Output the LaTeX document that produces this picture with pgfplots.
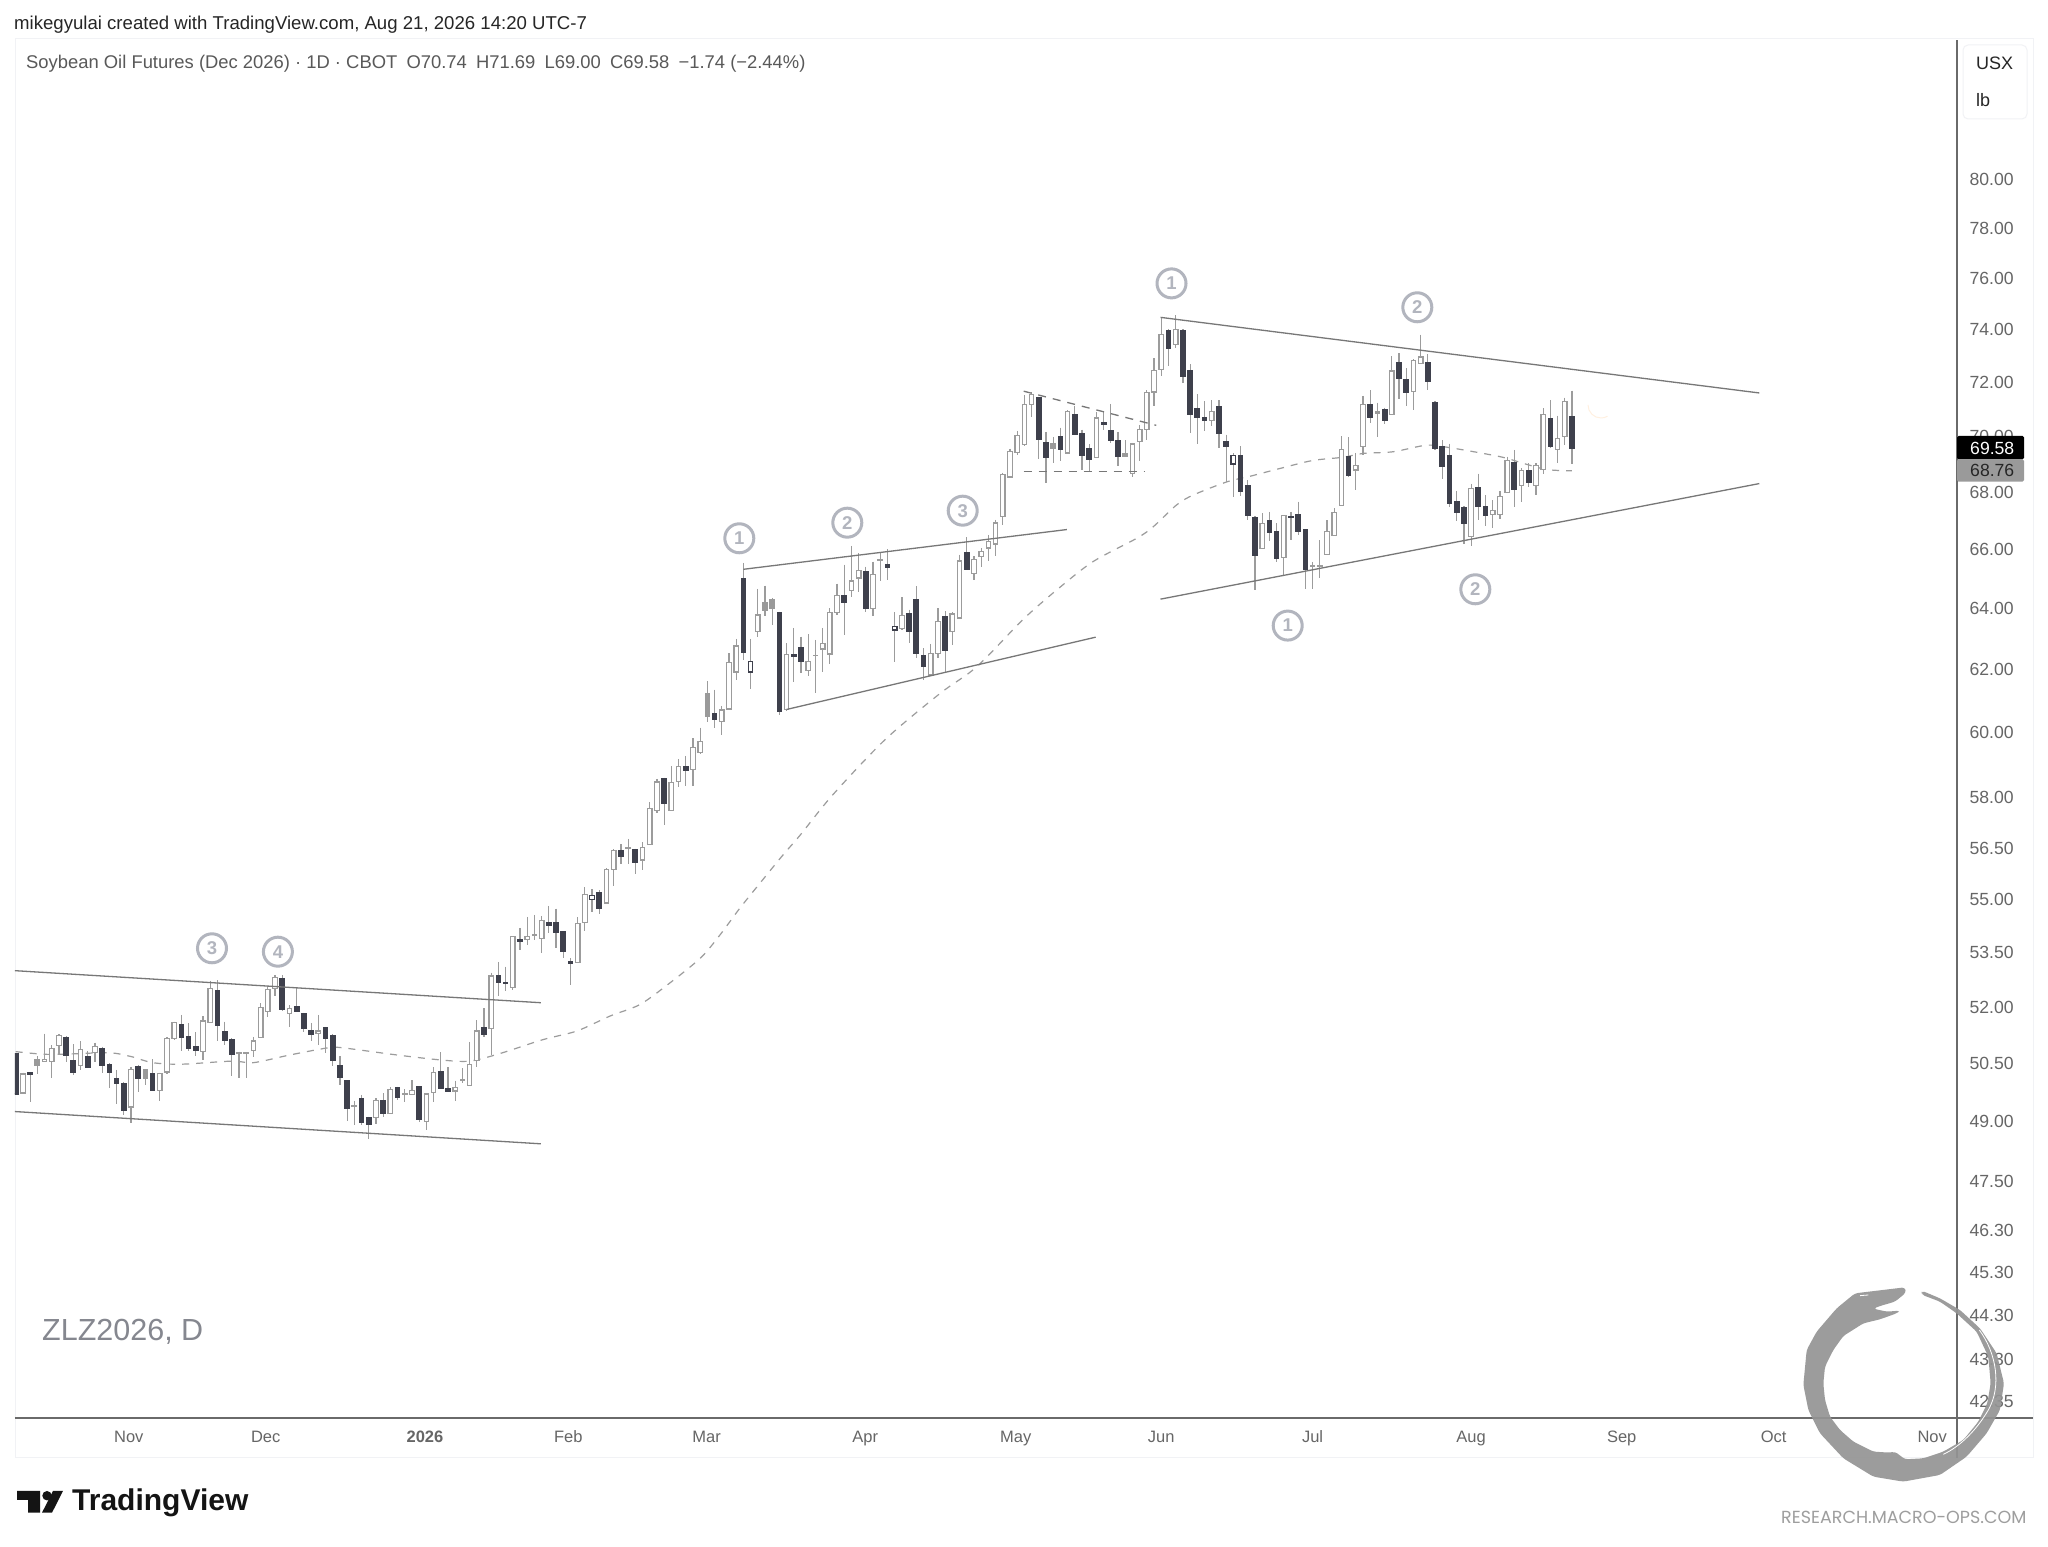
\documentclass[border=0pt]{standalone}
\usepackage{fontspec}
\usepackage{pgfplots}
\usepackage{pgfplotstable}
\pgfplotsset{compat=1.18}
\setmainfont{Liberation Sans}
\newfontfamily\wmfont{Poppins}
\definecolor{dk}{HTML}{3E404C}
\definecolor{wk}{HTML}{9C9C9C}
\definecolor{gf}{HTML}{9A9A9A}
\definecolor{lab}{HTML}{B2B5BE}
\definecolor{axl}{HTML}{6A6A6A}
\definecolor{tl}{HTML}{666666}
\definecolor{frm}{HTML}{F1F2F5}
\definecolor{ln}{HTML}{777777}
\definecolor{sym}{HTML}{85878F}
\pgfplotstableread{
x o h l c t
0 50.76 50.76 49.71 49.71 1
1 49.74 50.27 49.73 50.23 0
2 50.27 50.27 49.50 50.21 1
3 50.47 50.70 50.23 50.62 2
4 50.56 51.30 50.56 50.62 0
5 50.56 50.99 50.13 50.91 0
6 50.99 51.28 50.77 51.25 0
7 51.20 51.23 50.55 50.73 1
8 50.57 51.01 50.21 50.27 1
9 50.46 51.09 50.34 50.88 0
10 50.70 50.84 50.41 50.41 1
11 50.79 51.06 50.55 50.95 0
12 50.91 50.95 50.25 50.47 1
13 50.47 50.51 49.86 50.27 1
14 50.11 50.34 49.45 50.00 1
15 49.99 50.01 49.17 49.28 1
16 49.38 50.42 48.96 50.35 0
17 50.43 50.47 49.77 50.11 1
18 50.34 50.35 49.94 50.11 2
19 50.23 50.62 49.78 49.80 1
20 49.81 50.27 49.54 50.24 0
21 50.28 51.20 50.23 51.17 0
22 51.17 51.62 51.14 51.59 0
23 51.54 51.80 50.84 51.21 1
24 51.21 51.57 50.84 50.90 1
25 50.96 51.34 50.70 50.86 1
26 50.82 51.77 50.60 51.64 0
27 51.59 52.73 51.57 52.51 0
28 52.46 52.75 51.09 51.53 1
29 51.35 51.62 50.99 51.11 1
30 51.13 51.17 50.18 50.74 1
31 50.77 50.82 50.12 50.79 0
32 50.76 50.79 50.12 50.78 0
33 50.85 51.21 50.69 51.10 0
34 51.20 52.11 51.18 52.00 0
35 51.89 52.58 51.75 52.49 0
36 52.52 52.88 52.31 52.81 0
37 52.79 52.88 51.90 51.94 1
38 51.84 52.06 51.48 51.97 0
39 52.02 52.52 51.89 51.90 1
40 51.84 51.86 51.35 51.43 1
41 51.38 51.59 51.11 51.27 1
42 51.31 51.80 50.99 51.37 0
43 51.46 51.48 50.79 51.17 1
44 51.25 51.28 50.44 50.59 1
45 50.46 50.70 49.94 50.14 1
46 50.06 50.07 49.03 49.35 1
47 49.39 49.54 48.92 49.41 0
48 49.60 49.69 48.92 48.98 1
49 49.10 49.13 48.55 48.93 1
50 49.11 49.60 48.94 49.55 0
51 49.55 49.73 49.13 49.22 1
52 49.21 49.88 49.20 49.83 0
53 49.88 49.90 49.55 49.63 1
54 49.71 49.83 49.50 49.73 0
55 49.70 50.07 49.68 49.81 0
56 49.90 49.92 48.99 49.05 1
57 49.00 49.73 48.79 49.71 0
58 49.75 50.41 49.50 50.27 0
59 50.28 50.81 49.83 49.86 1
60 49.86 50.41 49.77 49.78 1
61 49.79 50.06 49.53 49.88 0
62 50.07 50.38 49.99 50.09 0
63 49.94 51.08 49.92 50.48 0
64 50.59 51.66 50.41 51.37 0
65 51.46 51.98 51.20 51.27 1
66 51.43 52.95 50.73 52.86 0
67 52.86 53.25 52.32 52.69 1
68 52.69 53.12 52.45 52.66 1
69 52.54 53.97 52.49 53.95 0
70 53.88 54.20 53.58 53.81 1
71 53.88 54.51 53.72 53.95 0
72 54.00 54.57 53.87 54.02 0
73 53.90 54.54 53.49 54.41 0
74 54.35 54.83 54.07 54.28 1
75 54.35 54.75 53.64 54.07 1
76 54.09 54.10 53.35 53.54 1
77 53.25 53.35 52.62 53.21 1
78 53.24 54.50 53.22 54.33 0
79 54.35 55.36 54.12 55.16 0
80 55.01 55.30 54.64 55.13 3
81 55.21 55.28 54.60 54.75 1
82 54.91 55.91 54.89 55.87 0
83 55.88 56.47 55.41 56.43 0
84 56.43 56.62 56.03 56.25 1
85 56.49 56.77 56.03 56.51 0
86 56.47 56.49 55.73 56.08 1
87 56.15 56.67 55.86 56.51 0
88 56.60 57.87 56.58 57.68 0
89 57.62 58.58 57.53 58.48 0
90 58.59 58.61 57.18 57.84 1
91 57.62 58.97 57.61 58.46 0
92 58.50 59.18 58.32 58.95 0
93 58.94 59.28 58.37 58.85 1
94 58.87 59.82 58.37 59.55 0
95 59.39 60.16 59.34 59.72 0
96 61.24 61.62 60.34 60.51 2
97 60.60 61.36 60.13 60.43 1
98 60.34 60.84 59.92 60.71 0
99 60.75 62.53 60.73 62.23 0
100 61.93 63.00 61.67 62.77 0
101 65.02 65.54 62.32 62.55 1
102 61.93 63.00 61.37 62.26 3
103 63.25 64.67 63.08 63.79 0
104 64.19 64.77 63.74 63.94 2
105 64.30 64.36 63.47 64.01 2
106 63.88 63.90 60.55 60.68 1
107 60.73 62.86 60.69 62.49 0
108 62.50 63.36 61.59 62.43 1
109 62.73 63.08 61.91 62.27 1
110 61.97 63.16 61.81 62.26 0
111 62.45 62.97 61.24 62.47 0
112 62.67 63.36 61.93 62.86 0
113 62.51 64.02 62.18 63.87 0
114 63.88 64.84 63.80 64.45 0
115 64.42 65.48 63.13 64.22 1
116 64.62 66.13 64.38 64.93 0
117 65.03 65.88 64.56 65.30 0
118 65.26 65.42 63.90 64.02 1
119 64.01 65.59 63.77 65.15 0
120 65.64 65.90 64.92 65.66 0
121 65.48 66.02 64.97 65.39 1
122 63.30 63.89 62.24 63.40 3
123 63.34 64.38 63.28 63.77 0
124 63.82 63.97 62.86 63.25 1
125 64.30 64.75 62.39 62.53 1
126 62.47 62.70 61.67 62.11 1
127 61.83 62.84 61.81 62.53 0
128 62.53 64.02 62.37 63.58 0
129 63.74 63.92 61.93 62.63 1
130 63.24 63.88 62.79 63.82 0
131 63.69 65.83 63.67 65.61 0
132 65.91 66.43 65.29 65.33 1
133 65.19 65.77 64.97 65.65 0
134 65.77 66.05 65.40 65.93 0
135 66.05 66.51 65.62 66.29 0
136 66.19 67.03 65.77 66.92 0
137 67.14 68.70 66.85 68.64 0
138 68.54 69.56 68.53 69.45 0
139 69.43 70.21 69.33 70.04 0
140 69.71 71.53 69.67 71.17 0
141 71.18 71.63 70.73 71.56 0
142 71.45 71.47 69.21 69.92 1
143 69.77 70.17 68.34 69.23 1
144 69.74 69.99 69.03 69.57 2
145 70.01 70.33 69.11 69.52 1
146 69.41 70.97 69.39 70.92 0
147 70.80 71.12 70.05 70.10 1
148 70.11 70.26 68.79 69.32 1
149 69.58 69.72 68.73 69.16 1
150 69.25 70.90 69.23 70.68 0
151 70.53 70.91 70.23 70.43 1
152 70.20 71.21 69.78 69.87 1
153 69.87 70.17 68.93 69.29 1
154 69.37 69.87 69.25 69.29 2
155 68.68 69.77 68.55 69.73 0
156 69.81 70.42 69.11 70.26 0
157 70.26 71.72 69.89 71.62 0
158 71.65 72.91 71.13 72.44 0
159 72.50 74.48 72.26 73.83 0
160 73.99 74.02 72.63 73.30 1
161 73.43 74.57 73.31 74.00 0
162 73.99 74.02 71.99 72.24 1
163 72.46 72.68 70.13 70.81 1
164 71.03 71.55 69.75 70.71 1
165 70.70 71.30 70.21 70.58 1
166 70.59 71.34 70.38 70.92 0
167 71.11 71.34 69.60 70.13 1
168 69.82 70.07 68.35 69.66 1
169 69.01 69.39 67.84 69.32 3
170 69.32 69.65 67.86 68.03 1
171 68.24 68.43 67.02 67.17 1
172 67.11 67.16 64.63 65.79 1
173 66.04 67.26 66.02 66.89 0
174 67.00 67.31 66.31 66.58 1
175 66.61 66.91 65.58 65.72 1
176 65.73 67.19 65.12 67.17 0
177 67.16 67.31 66.33 67.11 1
178 67.20 67.67 66.50 66.63 1
179 66.68 66.70 64.67 65.34 1
180 65.43 65.58 64.65 65.46 0
181 65.43 66.33 65.02 65.45 0
182 65.84 67.02 65.82 66.64 0
183 66.49 67.43 66.47 67.28 0
184 67.54 70.01 67.53 69.52 0
185 69.28 69.97 68.55 68.60 1
186 68.79 69.41 68.07 68.97 0
187 69.63 71.50 69.33 71.17 0
188 71.18 71.72 70.50 70.69 1
189 70.84 71.25 69.99 70.91 2
190 71.01 71.07 70.45 70.58 1
191 70.80 73.00 70.79 72.43 0
192 72.74 73.10 71.39 72.14 1
193 72.11 72.54 71.13 71.64 1
194 71.67 72.87 70.99 72.82 0
195 72.73 73.82 72.72 72.97 0
196 72.77 73.06 71.73 72.03 1
197 71.23 71.30 69.51 69.58 1
198 69.65 69.87 68.46 68.92 1
199 69.32 69.74 67.48 67.61 1
200 67.68 68.05 66.99 67.28 1
201 67.46 67.51 66.18 66.90 1
202 66.44 68.29 66.13 68.12 0
203 68.18 68.67 67.02 67.51 1
204 67.49 67.89 66.81 67.17 1
205 67.22 67.72 66.76 67.35 0
206 67.22 68.05 67.05 67.85 0
207 67.99 69.27 67.98 69.13 0
208 69.07 69.52 67.49 68.10 1
209 68.23 68.85 67.66 68.76 0
210 68.77 69.03 68.19 68.36 1
211 68.24 69.03 67.90 68.95 0
212 68.80 71.03 68.64 70.81 0
213 70.66 71.34 69.57 69.63 1
214 69.54 70.77 69.06 69.94 0
215 70.00 71.43 69.69 71.30 0
216 70.74 71.69 69.00 69.58 1
}\candles
\pgfplotsset{
 wick/.style={draw=wk,line width=1.2pt,forget plot,no markers},
 candle0/.style={draw=wk,fill=white,line width=1.25pt,forget plot,no markers},
 candle1/.style={draw=dk,fill=dk,line width=1.25pt,forget plot,no markers},
 candle2/.style={draw=gf,fill=gf,line width=1.25pt,forget plot,no markers},
 candle3/.style={draw=dk,fill=white,line width=1.25pt,forget plot,no markers},
}
\tikzset{
 numlab/.style={circle,draw=lab,line width=3pt,minimum size=29pt,inner sep=0pt,text=lab,font=\fontsize{18.5}{18}\bfseries}
}
\begin{document}
\begin{tikzpicture}
\path[use as bounding box] (0,0) rectangle (2048pt,1547pt);
\fill[white] (0,0) rectangle (2048pt,1547pt);
\begin{scope}[x=1pt,y=-1pt,yshift=1547pt]
\draw[frm,line width=1pt] (15,39) rectangle (2033,1458);
\end{scope}
\begin{axis}[
 at={(15pt,129pt)},anchor=south west,scale only axis,
 width=1942pt,height=1378pt,
 xmin=-0.097,xmax=269.44,ymin=42.00,ymax=86.05,
 ymode=log,
 axis y line=right,axis x line=bottom,
 axis line style={-,draw=axl,line width=1.5pt},
 tick style={draw=none},
 major tick length=0pt,
 ytick={42.35,43.30,44.30,45.30,46.30,47.50,49,50.50,52,53.50,55,56.50,58,60,62,64,66,68,70,72,74,76,78,80},
 yticklabels={42.35,43.30,44.30,45.30,46.30,47.50,49.00,50.50,52.00,53.50,55.00,56.50,58.00,60.00,62.00,64.00,66.00,68.00,70.00,72.00,74.00,76.00,78.00,80.00},
 yticklabel style={anchor=west,xshift=9pt,text=tl,font=\fontsize{17.6}{20}\selectfont},
 xtick={15.7,34.7,56.8,76.7,95.9,117.9,138.8,159,180,202,222.9,244,266},
 xticklabels={Nov,Dec,\textbf{2026},Feb,Mar,Apr,May,Jun,Jul,Aug,Sep,Oct,Nov},
 xticklabel style={text=tl,font=\fontsize{16.5}{20}\selectfont,anchor=base,yshift=-25pt},
 clip=true,
]
% moving average
\addplot[wk,line width=1.2pt,dash pattern=on 7pt off 7pt,smooth,forget plot,no markers] coordinates {
(0,50.82)(4,50.75)(8,50.76)(13,50.79)(16,50.69)(19,50.53)(23,50.49)(30,50.57)(33,50.53)(38,50.73)(43,50.91)(45,50.93)(53,50.73)(59,50.60)(63,50.57)(67.2,50.77)(73.2,51.14)(77.9,51.37)(82.5,51.77)(86.6,52.08)(90.4,52.61)(95,53.35)(97.7,53.99)(100.5,54.76)(103.3,55.48)(106.5,56.30)(108.9,56.89)(113.4,58.09)(120.7,59.79)(128.3,61.24)(133.4,62.10)(139.8,63.64)(144.5,64.63)(149.5,65.58)(155.6,66.39)(157.9,66.79)(161.1,67.55)(163.4,67.90)(168.1,68.37)(171.3,68.57)(175.5,68.85)(180,69.13)(184.2,69.25)(187,69.39)(191.2,69.45)(195.8,69.69)(199,69.60)(206,69.27)(209.2,69.03)(212.5,68.81)(216,68.76)};
% candles
\pgfplotsforeachungrouped \r in {0,...,216}{%
 \pgfplotstablegetelem{\r}{o}\of\candles\let\vo\pgfplotsretval
 \pgfplotstablegetelem{\r}{h}\of\candles\let\vh\pgfplotsretval
 \pgfplotstablegetelem{\r}{l}\of\candles\let\vl\pgfplotsretval
 \pgfplotstablegetelem{\r}{c}\of\candles\let\vc\pgfplotsretval
 \pgfplotstablegetelem{\r}{t}\of\candles\let\vt\pgfplotsretval
 \pgfmathsetmacro\xa{\r-0.31}\pgfmathsetmacro\xb{\r+0.31}
 \edef\doit{\noexpand\addplot[wick] coordinates {(\r,\vh)(\r,\vl)};
  \noexpand\addplot[candle\vt] coordinates {(\xa,\vo)(\xb,\vo)(\xb,\vc)(\xa,\vc)} --cycle;}
 \doit
}
% trend lines
\addplot[ln,line width=1.3pt,forget plot] coordinates {(-0.2,53.01)(72.9,52.13)};
\addplot[ln,line width=1.3pt,forget plot] coordinates {(-0.2,49.26)(72.9,48.44)};
\addplot[ln,line width=1.3pt,forget plot] coordinates {(101,65.33)(145.9,66.69)};
\addplot[ln,line width=1.3pt,forget plot] coordinates {(107,60.73)(149.9,63.06)};
\addplot[ln,line width=1.3pt,dash pattern=on 8pt off 7pt,forget plot] coordinates {(139.9,71.68)(158.3,70.41)};
\addplot[ln,line width=1.3pt,dash pattern=on 8pt off 7pt,forget plot] coordinates {(139.9,68.73)(156.7,68.73)};
\addplot[ln,line width=1.3pt,forget plot] coordinates {(158.9,74.48)(242,71.61)};
\addplot[ln,line width=1.3pt,forget plot] coordinates {(158.9,64.32)(242,68.31)};
\end{axis}
\begin{scope}[x=1pt,y=-1pt,yshift=1547pt]
% axis extensions
\draw[axl,line width=1.5pt] (1957,1418) -- (1957,1458);
\draw[axl,line width=1.5pt] (1957,1418) -- (2033,1418);
% circled labels
\node[numlab] at (212,948.3) {3};
\node[numlab] at (277.9,951.7) {4};
\node[numlab] at (739.3,538.3) {1};
\node[numlab] at (847.3,522.7) {2};
\node[numlab] at (962.7,510.7) {3};
\node[numlab] at (1171.5,283.4) {1};
\node[numlab] at (1417.3,307.3) {2};
\node[numlab] at (1287.7,625.6) {1};
\node[numlab] at (1475.3,589.3) {2};
% faint mark
\draw[orange!12,line width=1pt] (1588,405) arc[start angle=180,end angle=60,radius=13];
% header
\node[anchor=west,inner sep=0,text=black!85,font=\fontsize{18.6}{20}\selectfont] at (14,25) {mikegyulai created with TradingView.com, Aug 21, 2026 14:20 UTC-7};
\node[anchor=west,inner sep=0,text=black!65,font=\fontsize{18.4}{20}\selectfont] at (26,64) {Soybean Oil Futures (Dec 2026) · 1D · CBOT\enspace O70.74\enspace H71.69\enspace L69.00\enspace C69.58\enspace −1.74 (−2.44\%)};
% currency box
\draw[frm,line width=1pt,rounded corners=5pt] (1963,45) rectangle (2027,119);
\node[anchor=west,inner sep=0,text=black!85,font=\fontsize{18}{20}\selectfont] at (1976,63.5) {USX};
\node[anchor=west,inner sep=0,text=black!85,font=\fontsize{18}{20}\selectfont] at (1976,100) {lb};
% price flags
\fill[black,rounded corners=1.5pt] (1957,436) rectangle (2024,459.3);
\node[anchor=west,inner sep=0,text=white,font=\fontsize{17.6}{20}\selectfont] at (1970,448) {69.58};
\fill[gf,rounded corners=1.5pt] (1957,459.3) rectangle (2024,481.7);
\node[anchor=west,inner sep=0,text=black!85,font=\fontsize{17.6}{20}\selectfont] at (1970,470.5) {68.76};
% symbol
\node[anchor=west,inner sep=0,text=sym,font=\fontsize{30.5}{32}\selectfont] at (42,1332) {ZLZ2026, D};
% tradingview logo
\fill[black!92] (17,1491) -- (40,1491) -- (40,1512.7) -- (28,1512.7) -- (28,1500) -- (17,1500) -- cycle;
\fill[black!92] (47,1495.7) circle (4.7);
\fill[black!92] (53,1491) -- (63,1491) -- (52,1512.7) -- (42,1512.7) -- cycle;
\node[anchor=west,inner sep=0,text=black!92,font=\fontsize{30}{34}\bfseries] at (72,1503) {TradingView};
% watermark
\begin{scope}[shift={(1780,1270)},x=0.3333pt,y=-0.3333pt]
\fill[black!42,fill opacity=0.92,rounded corners=3pt]
 (375,52) -- (225,70) -- (170,115) -- (110,185) -- (80,240) -- (70,345) -- (85,420) -- (120,490) -- (190,565) -- (280,620) -- (370,635) -- (480,615) -- (560,560) -- (620,490) -- (660,420) -- (672,340) -- (650,250) -- (600,175) -- (540,120) -- (480,85) -- (425,62) -- (425,74) -- (480,95) -- (530,130) -- (590,185) -- (625,260) -- (632,340) -- (622,400) -- (595,455) -- (550,510) -- (490,545) -- (430,565) -- (375,568) -- (345,545) -- (330,548) -- (280,545) -- (220,515) -- (180,480) -- (150,440) -- (135,390) -- (130,340) -- (135,290) -- (160,240) -- (190,198) -- (250,160) -- (300,148) -- (350,130) -- (360,122) -- (320,125) -- (280,116) -- (300,108) -- (345,95) -- (378,68) -- cycle;
\draw[white,line width=0.8pt] (598,180) .. controls (650,250) and (665,350) .. (625,420) .. controls (590,480) and (540,530) .. (490,553);
\draw[white,line width=0.8pt] (240,77) -- (265,75);
\end{scope}
\node[anchor=west,inner sep=0,text=black!38,font=\wmfont\fontsize{17.5}{18}\selectfont] at (1781,1517) {RESEARCH.MACRO-OPS.COM};
\end{scope}
\end{tikzpicture}
\end{document}
